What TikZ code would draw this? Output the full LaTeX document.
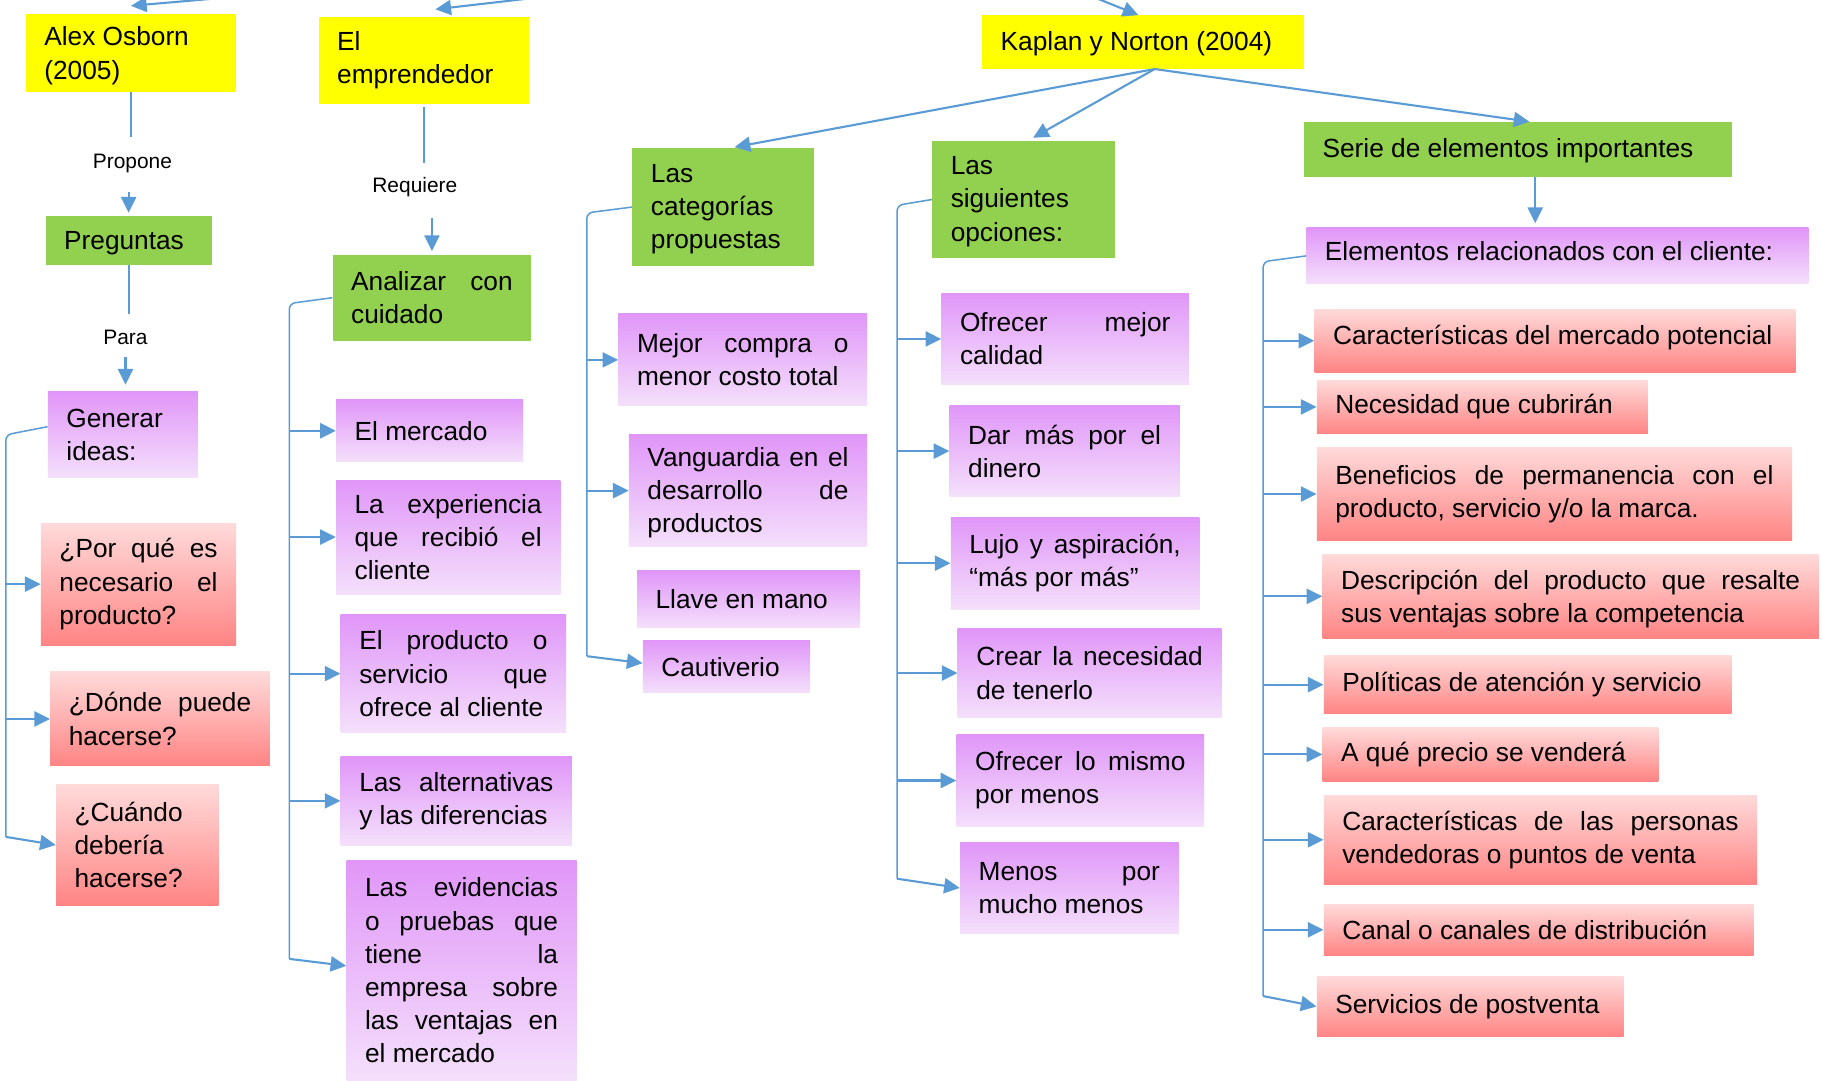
\documentclass[tikz,border=0pt]{standalone}
\usepackage{fontspec}
\setmainfont{Liberation Sans}
\usetikzlibrary{arrows.meta,calc}
\definecolor{yel}{HTML}{FFFF00}
\definecolor{grn}{HTML}{92D050}
\definecolor{purT}{HTML}{E096F8}
\definecolor{purB}{HTML}{F4E0FB}
\definecolor{redT}{HTML}{FFDADA}
\definecolor{redB}{HTML}{FF8484}
\definecolor{lnc}{HTML}{5B9BD5}
\newcommand\boxfont{\fontsize{22.6pt}{28.6pt}\selectfont\tolerance=10000\hbadness=10000\hyphenpenalty=10000\exhyphenpenalty=10000\relax}
\newcommand\lblfont{\fontsize{18pt}{21pt}\selectfont}
\setlength\parindent{0pt}
\tikzset{
  bx/.style={rectangle, inner xsep=16pt, inner ysep=0pt, anchor=north west, font=\boxfont, text=black, align=justify},
  yb/.style={bx, fill=yel},
  gb/.style={bx, fill=grn},
  pb/.style={bx, top color=purT, bottom color=purB},
  rb/.style={bx, top color=redT, bottom color=redB},
  sz/.style n args={3}{minimum width=#1pt, minimum height=#2pt, text width=#3pt},
  lbl/.style={font=\lblfont, inner sep=0pt},
  arr/.style={draw=lnc, line width=1.8pt, -{Triangle[length=13.5pt,width=13pt]}},
  ln/.style={draw=lnc, line width=1.8pt},
  brk/.style={draw=lnc, line width=1.3pt, rounded corners=5pt},
}
\begin{document}
\begin{tikzpicture}[x=1pt,y=-1pt]
\fill[white] (0,0) rectangle (1568,930);
\useasboundingbox (0,0) rectangle (1568,930);

% top level
\node[yb, sz={181}{67}{149}] (alex) at (22,12) {\rule{0pt}{21pt}Alex Osborn\\(2005)};
\node[yb, sz={181}{75}{149}] (empr) at (274,14) {El\\emprendedor};
\node[yb, sz={277}{46}{245}] (kap) at (845,13) {\rule{0pt}{19pt}\mbox{Kaplan y Norton (2004)}};

% second level
\node[gb, sz={143}{42}{111}] (preg) at (39,186) {\rule{0pt}{19pt}\mbox{Preguntas}};
\node[pb, sz={129}{74}{97}] (gen) at (41,337) {Generar\\ideas:};
\node[gb, sz={171}{74}{139}] (anal) at (286,219) {Analizar con\linebreak cuidado};
\node[gb, sz={156}{102}{124}] (cat) at (544,127) {\rule{0pt}{19pt}Las\\categorías\\propuestas};
\node[gb, sz={157}{101}{125}] (sig) at (802,121) {\rule{0pt}{19pt}Las\\siguientes\\opciones:};
\node[gb, sz={368}{47}{336}] (serie) at (1122,105) {\rule{0pt}{19pt}\mbox{Serie de elementos importantes}};
\node[pb, sz={432}{48}{400}] (elem) at (1124,196) {\mbox{Elementos relacionados con el cliente:}\rule[-9pt]{0pt}{1pt}};

% left column
\node[rb, sz={168}{105}{136}] (porq) at (35,450) {¿Por qué es\linebreak necesario el\linebreak producto?};
\node[rb, sz={189}{81}{157}] (donde) at (43,578) {¿Dónde puede\linebreak hacerse?};
\node[rb, sz={140}{104}{108}] (cuando) at (48,675) {¿Cuándo\\debería\\hacerse?};

% column 2
\node[pb, sz={161}{53}{129}] (merc) at (289,344) {\mbox{El mercado}};
\node[pb, sz={193}{98}{161}] (exp) at (289,413) {La experiencia\linebreak que recibió el\linebreak cliente};
\node[pb, sz={194}{101}{162}] (prod) at (293,529) {El producto o\linebreak servicio que\linebreak ofrece al cliente};
\node[pb, sz={199}{76}{167}] (alt) at (293,651) {Las alternativas\linebreak y las diferencias};
\node[pb, sz={198}{190}{166}] (evid) at (298,740) {Las evidencias\linebreak o pruebas que\linebreak tiene la\linebreak empresa sobre\linebreak las ventajas en\linebreak el mercado};

% column 3
\node[pb, sz={214}{79}{182}] (mejor) at (532,270) {Mejor compra o\linebreak menor costo total};
\node[pb, sz={205}{96}{173}] (vang) at (541,374) {\rule{0pt}{20pt}Vanguardia en el\linebreak desarrollo de\linebreak productos};
\node[pb, sz={192}{49}{160}] (llave) at (548,491) {\mbox{Llave en mano}};
\node[pb, sz={144}{45}{112}] (caut) at (553,551) {\mbox{Cautiverio}};

% column 4
\node[pb, sz={213}{79}{181}] (ofr) at (810,252) {Ofrecer mejor\linebreak calidad};
\node[pb, sz={198}{78}{166}] (dar) at (817,349) {Dar más por el\linebreak dinero};
\node[pb, sz={214}{79}{182}] (lujo) at (818,445) {Lujo y aspiración,\linebreak “más por más”};
\node[pb, sz={227}{76}{195}] (crear) at (824,541) {Crear la necesidad\linebreak de tenerlo};
\node[pb, sz={213}{79}{181}] (mismo) at (823,632) {Ofrecer lo mismo\linebreak por menos};
\node[pb, sz={188}{78}{156}] (menos) at (826,725) {Menos por\linebreak mucho menos};

% right column
\node[rb, sz={414}{54}{382}] (c1) at (1131,266) {\mbox{Características del mercado potencial}\rule[-10pt]{0pt}{1pt}};
\node[rb, sz={285}{46}{253}] (nec) at (1133,327) {\mbox{Necesidad que cubrirán}};
\node[rb, sz={409}{80}{377}] (ben) at (1133,385) {Beneficios de permanencia con el\linebreak producto, servicio y/o la marca.};
\node[rb, sz={427}{72}{395}] (desc) at (1138,477) {\rule{0pt}{21pt}Descripción del producto que resalte\linebreak sus ventajas sobre la competencia};
\node[rb, sz={351}{50}{319}] (pol) at (1139,564) {\mbox{Políticas de atención y servicio}};
\node[rb, sz={289}{46}{257}] (prec) at (1138,626) {\mbox{A qué precio se venderá}};
\node[rb, sz={373}{77}{341}] (pers) at (1139,684) {Características de las personas\linebreak vendedoras o puntos de venta};
\node[rb, sz={370}{44}{338}] (canal) at (1139,778) {\mbox{Canal o canales de distribución}};
\node[rb, sz={264}{52}{232}] (serv) at (1133,840) {\mbox{Servicios de postventa}};

% labels
\node[lbl] (propone) at (114,141) {Propone};
\node[lbl] (requiere) at (357,161) {Requiere};
\node[lbl] (para) at (108,290) {Para};

% incoming arrows from above
\coordinate (inA) at (205,-3);
\coordinate (inE) at (470,-3);
\coordinate (inK) at (940,-3);
\draw[arr] (inA) -- ([yshift=7pt]alex.north);
\draw[arr] (inE) -- ([xshift=10pt,yshift=6pt]empr.north);
\draw[arr] (inK) -- ([xshift=-4pt]kap.north);

% vertical chains
\draw[ln, shorten >=23pt] (alex.south) -- (alex.south |- propone.center);
\draw[arr, shorten <=24pt, shorten >=3pt] (preg.north |- propone.center) -- (preg.north);
\draw[ln, shorten >=20pt] (preg.south) -- (preg.south |- para.center);
\draw[arr, shorten <=17pt, shorten >=6pt] (para.center) -- (para.center |- gen.north);
\draw[ln, shorten <=3pt, shorten >=21pt] (empr.south) -- (empr.south |- requiere.center);
\draw[arr, shorten <=27pt, shorten >=3pt] (anal.north |- requiere.center) -- (anal.north);

% Kaplan branches
\coordinate (kb) at ([xshift=10pt]kap.south);
\draw[arr, shorten >=2pt] (kb) -- ([xshift=8pt]cat.north);
\draw[arr, shorten >=5pt] (kb) -- ([xshift=4pt]sig.north);
\draw[arr, shorten >=2pt] (kb) -- ([xshift=12pt]serie.north);
\coordinate (se) at ([xshift=15pt]serie.south);
\draw[arr, shorten >=4pt] (se) -- (se |- elem.north);

% bracket 1
\coordinate (v1) at (5,0);
\coordinate (b1) at (cuando.west -| v1);
\draw[brk] ([yshift=7pt]gen.west) -- (gen.west -| v1) -- ([yshift=7pt]b1);
\draw[arr] (porq.west -| v1) -- (porq.west);
\draw[arr] (donde.west -| v1) -- (donde.west);
\draw[arr] ([yshift=7pt]b1) -- (cuando.west);

% bracket 2
\coordinate (v2) at (249,0);
\coordinate (t2) at (anal.west -| v2);
\coordinate (b2) at (evid.west -| v2);
\draw[brk] (anal.west) -- ([yshift=-5pt]t2) -- ([yshift=10pt]b2);
\draw[arr] (merc.west -| v2) -- (merc.west);
\draw[arr] (exp.west -| v2) -- (exp.west);
\draw[arr] (prod.west -| v2) -- (prod.west);
\draw[arr] (alt.west -| v2) -- (alt.west);
\draw[arr] ([yshift=10pt]b2) -- ([yshift=4pt]evid.west);

% bracket 3
\coordinate (v3) at (505,0);
\coordinate (t3) at (cat.west -| v3);
\coordinate (b3) at (caut.west -| v3);
\draw[brk] (cat.west) -- ([yshift=-5pt]t3) -- ([yshift=9pt]b3);
\draw[arr] (mejor.west -| v3) -- (mejor.west);
\draw[arr] (vang.west -| v3) -- (vang.west);
\draw[arr] ([yshift=9pt]b3) -- ([yshift=3pt]caut.west);

% bracket 4
\coordinate (v4) at (772,0);
\coordinate (t4) at (sig.west -| v4);
\coordinate (b4) at (menos.west -| v4);
\draw[brk] (sig.west) -- ([yshift=-5pt]t4) -- ([yshift=8pt]b4);
\draw[arr] (ofr.west -| v4) -- (ofr.west);
\draw[arr] (dar.west -| v4) -- (dar.west);
\draw[arr] (lujo.west -| v4) -- (lujo.west);
\draw[arr] (crear.west -| v4) -- (crear.west);
\draw[arr] (mismo.west -| v4) -- (mismo.west);
\draw[arr] ([yshift=8pt]b4) -- (menos.west);

% bracket 5
\coordinate (v5) at (1087,0);
\coordinate (t5) at (elem.west -| v5);
\coordinate (b5) at (serv.west -| v5);
\draw[brk] (elem.west) -- ([yshift=-5pt]t5) -- ([yshift=9pt]b5);
\draw[arr] (c1.west -| v5) -- (c1.west);
\draw[arr] (nec.west -| v5) -- (nec.west);
\draw[arr] (ben.west -| v5) -- (ben.west);
\draw[arr] (desc.west -| v5) -- (desc.west);
\draw[arr] (pol.west -| v5) -- (pol.west);
\draw[arr] (prec.west -| v5) -- (prec.west);
\draw[arr] (pers.west -| v5) -- (pers.west);
\draw[arr] (canal.west -| v5) -- (canal.west);
\draw[arr] ([yshift=9pt]b5) -- (serv.west);
\end{tikzpicture}
\end{document}
